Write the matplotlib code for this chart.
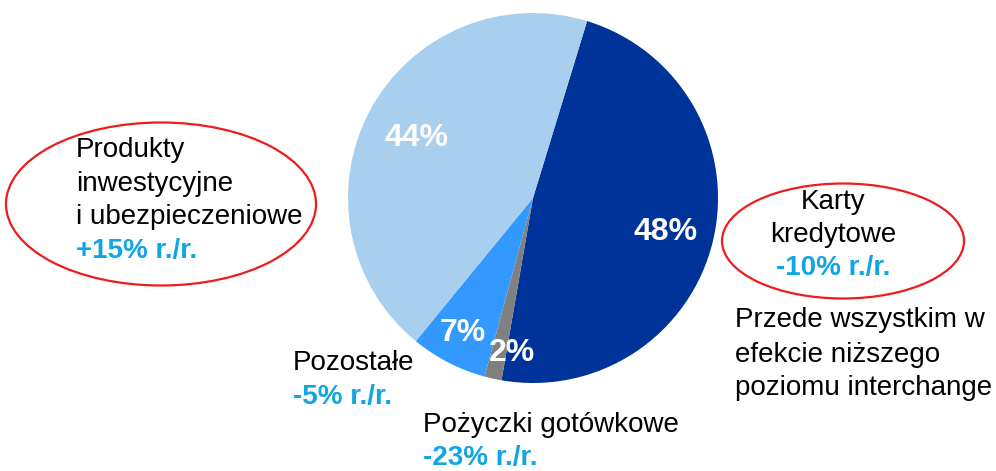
import matplotlib.pyplot as plt
from matplotlib.patches import Ellipse

plt.rcParams['font.family'] = ['Liberation Sans', 'DejaVu Sans']

segmenty = ['Karty kredytowe', 'Pożyczki gotówkowe', 'Pozostałe', 'Produkty inwestycyjne i ubezpieczeniowe']
udzialy  = [48.0, 1.5, 6.7, 43.8]
etykiety = ['48%', '2%', '7%', '44%']
kolory   = ['#003399', '#808080', '#3399FF', '#A9CFEE']

H = 471
NIEBIESKI = '#12A5E3'

fig = plt.figure(figsize=(9.96, 4.71), dpi=100)
ax = fig.add_axes([0, 0, 1, 1])

ax.pie(udzialy, colors=kolory, startangle=73, counterclock=False,
       center=(533, H - 198), radius=185, frame=True,
       wedgeprops=dict(linewidth=0))
ax.set_xlim(0, 996)
ax.set_ylim(0, H)
ax.set_aspect('equal')
ax.axis('off')

# etykiety procentowe na wycinkach
poz_etykiet = [(666, 232), (512, 353), (463, 333), (416, 138)]
for (x, y), txt in zip(poz_etykiet, etykiety):
    ax.text(x, H - y, txt, color='white', fontsize=23, fontweight='bold',
            ha='center', va='center')

# owale
ax.add_patch(Ellipse((161, H - 204), 310, 163, fill=False, edgecolor='#EE1C1C', linewidth=1.6))
ax.add_patch(Ellipse((843, H - 241), 242, 115, fill=False, edgecolor='#EE1C1C', linewidth=1.6))

fs = 20
# lewy owal
for y, txt in [(150, 'Produkty'), (184, 'inwestycyjne'), (217, 'i ubezpieczeniowe')]:
    ax.text(76, H - y, txt, fontsize=fs, ha='left', va='center', color='black')
ax.text(76, H - 251, '+15% r./r.', fontsize=fs, fontweight='bold', ha='left', va='center', color=NIEBIESKI)

# prawy owal
ax.text(833, H - 202, 'Karty', fontsize=fs, ha='center', va='center')
ax.text(833, H - 235, 'kredytowe', fontsize=fs, ha='center', va='center')
ax.text(833, H - 268, '-10% r./r.', fontsize=fs, fontweight='bold', ha='center', va='center', color=NIEBIESKI)

for y, txt in [(320, 'Przede wszystkim w'), (355, 'efekcie niższego'), (388, 'poziomu interchange')]:
    ax.text(735, H - y, txt, fontsize=fs, ha='left', va='center')

# pozostałe
ax.text(293, H - 363, 'Pozostałe', fontsize=fs, ha='left', va='center')
ax.text(293, H - 397, '-5% r./r.', fontsize=fs, fontweight='bold', ha='left', va='center', color=NIEBIESKI)

ax.text(423, H - 425, 'Pożyczki gotówkowe', fontsize=fs, ha='left', va='center')
ax.text(423, H - 458, '-23% r./r.', fontsize=fs, fontweight='bold', ha='left', va='center', color=NIEBIESKI)

plt.savefig('out.png', dpi=100)
